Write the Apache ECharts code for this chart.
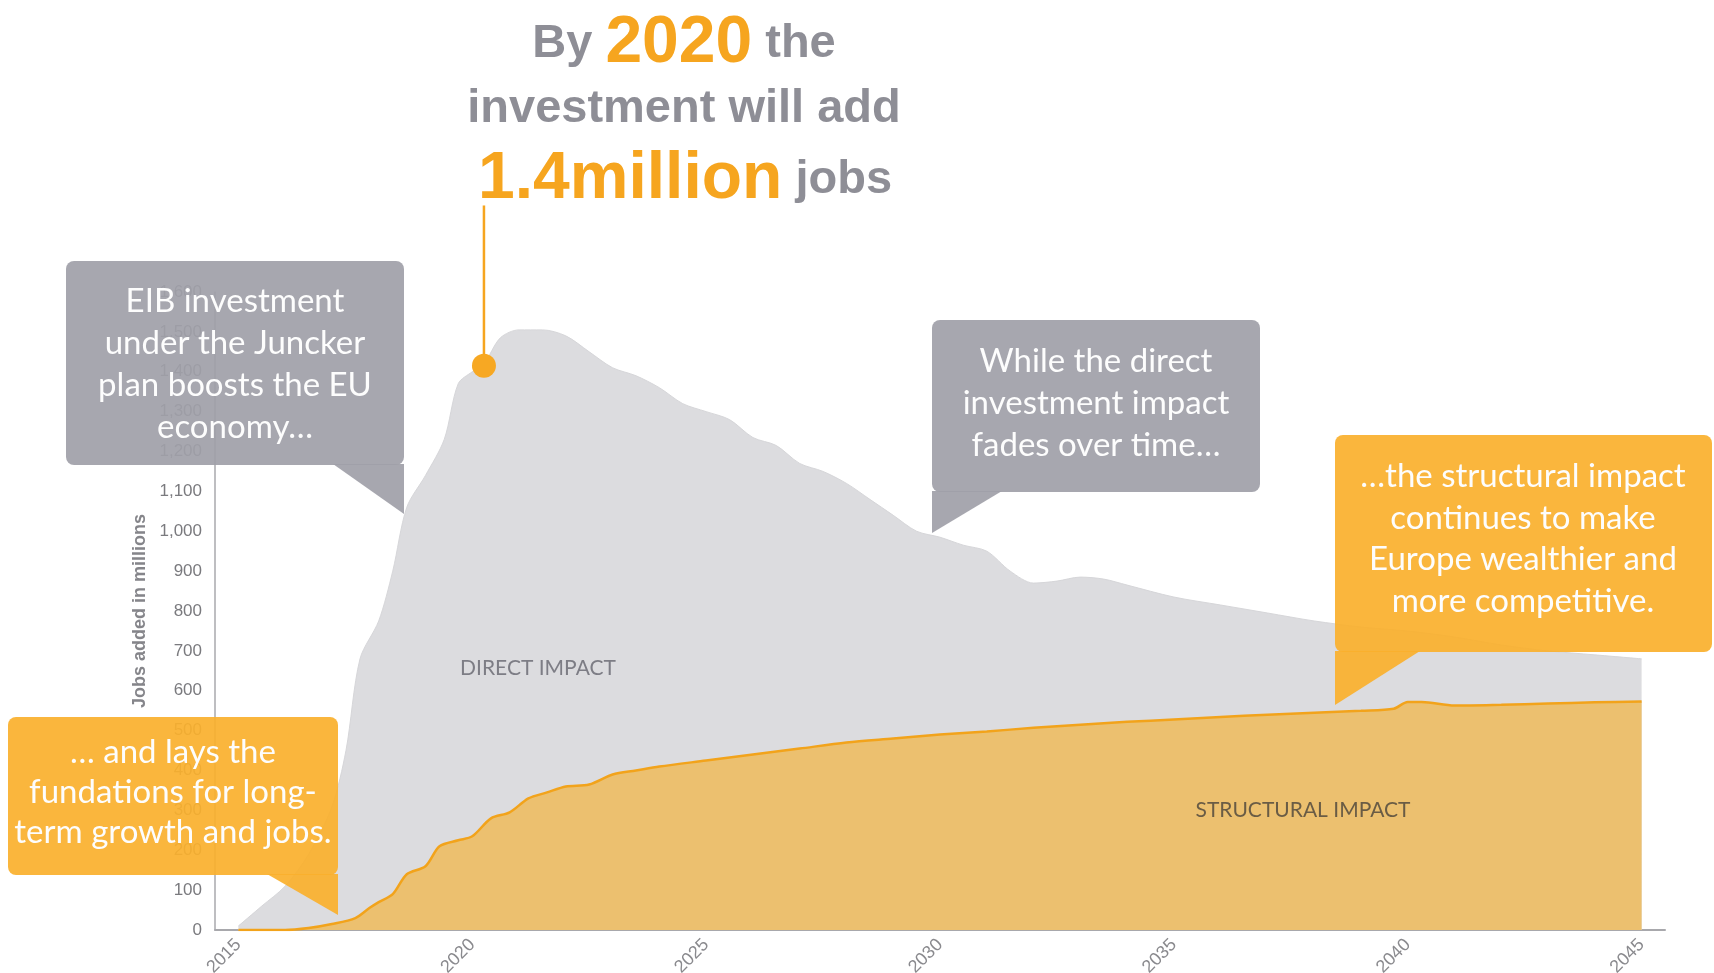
<!DOCTYPE html>
<html>
<head>
<meta charset="utf-8">
<script src="https://cdn.jsdelivr.net/npm/echarts@6/dist/echarts.min.js"></script>
<style>
html,body{margin:0;padding:0;background:#fff;}
#c{width:1714px;height:973px;}
</style>
</head>
<body>
<div id="c"></div>
<script>
// ---- data ----
const directYears = [2015,2015.5,2016,2016.5,2017,2017.3,2017.6,2018,2018.3,2018.6,2019,2019.4,2019.7,2020,2020.25,2020.6,2021,2021.5,2022,2022.5,2023,2023.5,2024,2024.5,2025,2025.5,2026,2026.5,2027,2027.5,2028,2028.5,2029,2029.5,2030,2030.5,2031,2031.5,2032,2032.5,2033,2033.5,2034,2035,2036,2037,2038,2039,2040,2041,2042,2043,2044,2045];
const directValues = [10,60,110,190,310,450,680,775,900,1060,1140,1230,1370,1400,1420,1485,1505,1505,1490,1450,1410,1390,1360,1320,1300,1280,1235,1215,1170,1150,1120,1080,1040,1000,985,965,950,900,870,875,885,880,865,835,815,795,775,760,750,735,715,700,690,680];

const structYears = [2015,2016,2016.5,2017,2017.5,2017.8,2018,2018.3,2018.6,2019,2019.3,2019.7,2020,2020.4,2020.8,2021.2,2021.6,2022,2022.5,2023,2023.5,2024,2025,2026,2027,2028,2029,2030,2031,2032,2033,2034,2035,2036,2037,2038,2039,2039.7,2040,2040.3,2041,2042,2043,2044,2045];
const structValues = [0,0,5,15,30,55,70,90,140,160,210,225,235,280,295,330,345,360,365,390,400,410,425,440,455,470,480,490,498,507,515,522,528,534,540,545,550,555,572,572,563,565,568,571,573];

const xTickValues = [2015,2020,2025,2030,2035,2040,2045];
const highlightYear = [2020.25];
const highlightValue = [1415];
const highlightLineTop = [1817];

const seriesNames = ['DIRECT IMPACT','STRUCTURAL IMPACT'];
const yAxisTitle = 'Jobs added in millions';

const callouts = [
  {lines:['EIB investment','under the Juncker','plan boosts the EU','economy…'], color:'#a0a0a8'},
  {lines:['While the direct','investment impact','fades over time…'], color:'#a0a0a8'},
  {lines:['…the structural impact','continues to make','Europe wealthier and','more competitive.'], color:'#fab02c'},
  {lines:['… and lays the','fundations for long-','term growth and jobs.'], color:'#fab02c'}
];

const directData = directYears.map((y,i)=>[y, directValues[i]]);
const structData = structYears.map((y,i)=>[y, structValues[i]]);

const chart = echarts.init(document.getElementById('c'), null, {renderer:'canvas'});

// layout for annotation boxes (pixels)
const boxLayout = [
  {x:66,y:261,w:338,h:204,ptr:[[333,464],[404,464],[404,514]],tx:235,ty:364,lh:42},
  {x:932,y:320,w:328,h:172,ptr:[[932,491],[1002,491],[932,533]],tx:1096,ty:403,lh:42},
  {x:1335,y:435,w:377,h:217,ptr:[[1335,651],[1420,651],[1335,705]],tx:1523,ty:539,lh:41.5},
  {x:8,y:717,w:330,h:158,ptr:[[267,874],[338,874],[338,915]],tx:173,ty:792,lh:40}
];

const graphics = [];
callouts.forEach((c,i)=>{
  const L = boxLayout[i];
  graphics.push({type:'rect', z:100, shape:{x:L.x,y:L.y,width:L.w,height:L.h,r:8}, style:{fill:c.color, opacity:0.92}});
  graphics.push({type:'polygon', z:100, shape:{points:L.ptr}, style:{fill:c.color, opacity:0.92}});
  graphics.push({type:'text', z:101, x:L.tx, y:L.ty, style:{text:c.lines.join('\n'), fill:'#fdfdfd', font:'33px Lato', align:'center', verticalAlign:'middle', lineHeight:L.lh}});
});

// Title
const richT = {
  g:{fontSize:47, fontWeight:'bold', fill:'#8e8e96', fontFamily:'Liberation Sans'},
  o:{fontSize:66, fontWeight:'bold', fill:'#f6a51f', fontFamily:'Liberation Sans'}
};
graphics.push({type:'text', z:110, x:684, y:77, style:{text:'{g|By }{o|2020}{g| the}', rich:richT, align:'center', verticalAlign:'bottom', font:'bold 47px Liberation Sans'}});
graphics.push({type:'text', z:110, x:684, y:133, style:{text:'{g|investment will add}', rich:richT, align:'center', verticalAlign:'bottom', font:'bold 47px Liberation Sans'}});
graphics.push({type:'text', z:110, x:685, y:213, style:{text:'{o|1.4million}{g| jobs}', rich:richT, align:'center', verticalAlign:'bottom', font:'bold 47px Liberation Sans'}});

// area labels
graphics.push({type:'text', z:50, x:538, y:668, style:{text:seriesNames[0], fill:'#7d7d85', font:'21px Lato', align:'center', verticalAlign:'middle'}});
graphics.push({type:'text', z:50, x:1303, y:810, style:{text:seriesNames[1], fill:'#6a5c45', font:'21px Lato', align:'center', verticalAlign:'middle'}});

const option = {
  animation:false,
  backgroundColor:'#ffffff',
  grid:{left:215, right:49, top:292, bottom:43, containLabel:false, outerBoundsMode:'none'},
  xAxis:{
    type:'value', min:2014.5, max:2045.5,
    axisLine:{show:true, lineStyle:{color:'#a8a8ac', width:2}},
    axisTick:{show:false},
    splitLine:{show:false},
    axisLabel:{customValues:xTickValues, rotate:45, color:'#8a8a8e', fontSize:18, fontFamily:'Liberation Sans', margin:12, formatter:v=>String(v)}
  },
  yAxis:{
    type:'value', min:0, max:1600, interval:100,
    axisLine:{show:true, lineStyle:{color:'#a8a8ac', width:1.5}},
    axisTick:{show:false},
    splitLine:{show:false},
    axisLabel:{color:'#7a7a7e', fontSize:17, fontFamily:'Liberation Sans', margin:13},
    name:yAxisTitle, nameLocation:'middle', nameGap:63,
    nameTextStyle:{color:'#85858a', fontSize:18, fontWeight:'bold', fontFamily:'Liberation Sans'}
  },
  series:[
    {name:seriesNames[0], type:'line', data:directData, smooth:0.3, symbol:'none', z:1,
     lineStyle:{color:'#d6d6d9', width:1}, areaStyle:{color:'#dcdcdf', opacity:1}},
    {name:seriesNames[1], type:'line', data:structData, smooth:0.3, symbol:'none', z:2,
     lineStyle:{color:'#f2a31b', width:2.5}, areaStyle:{color:'#ecc06f', opacity:1}},
    {type:'line', clip:false, z:5, symbol:'none', data:[[highlightYear[0],highlightValue[0]],[highlightYear[0],highlightLineTop[0]]],
     lineStyle:{color:'#f6a51f', width:2.5}},
    {type:'scatter', z:6, symbolSize:24, data:[[highlightYear[0],highlightValue[0]]], itemStyle:{color:'#f7a823', opacity:1}}
  ],
  graphic:graphics
};
chart.setOption(option);
</script>
</body>
</html>
